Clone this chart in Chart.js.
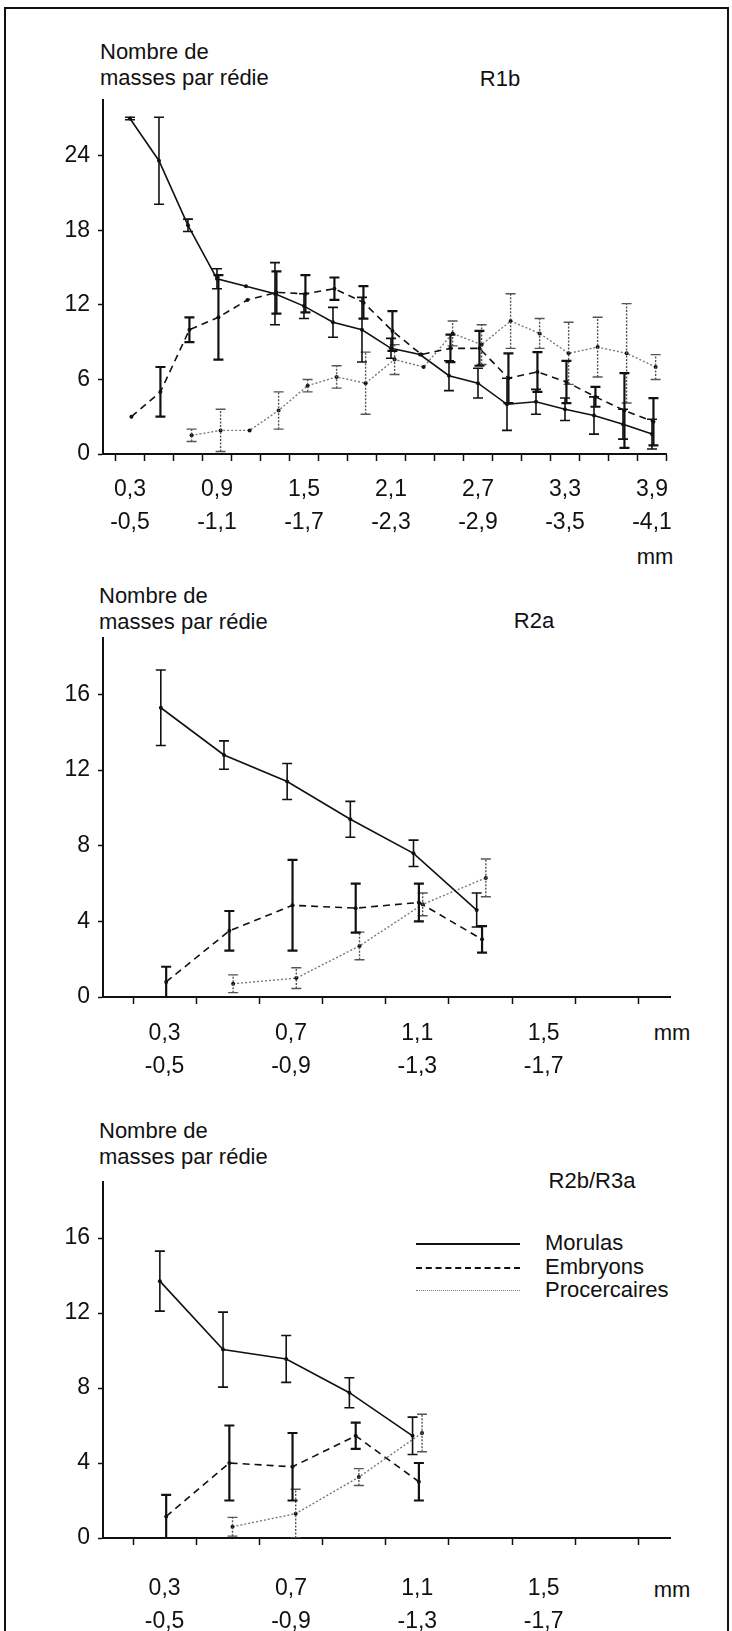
<!DOCTYPE html>
<html lang="fr">
<head>
<meta charset="utf-8">
<title>Nombre de masses par rédie</title>
<script src="https://cdn.jsdelivr.net/npm/chart.js@4.4.1/dist/chart.umd.min.js"></script>
<style>
  html, body { margin: 0; padding: 0; background: #fff; }
  body { width: 732px; height: 1631px; position: relative; overflow: hidden;
         font-family: "Liberation Sans", Arial, sans-serif; color: #111; }
  .frame { position: absolute; left: 4px; top: 7px; width: 725px; height: 1640px;
           border: 2px solid #111; box-sizing: border-box; }
  canvas { position: absolute; left: 0; }
  .txt { position: absolute; font-size: 22px; line-height: 26px; white-space: nowrap; }
  .c { transform: translate(-50%, -50%); }
  .sample { position: absolute; left: 416px; width: 104px; height: 0; }
</style>
</head>
<body>
<div class="frame"></div>

<div class="txt" style="left:100px; top:39px">Nombre de<br>masses par rédie</div>
<div class="txt c" style="left:500px; top:79px">R1b</div>
<div class="txt c" style="left:655px; top:557px">mm</div>
<canvas id="chart1" width="732" height="467" style="top:78px"></canvas>

<div class="txt" style="left:99px; top:583px">Nombre de<br>masses par rédie</div>
<div class="txt c" style="left:534px; top:621px">R2a</div>
<div class="txt c" style="left:672px; top:1033px">mm</div>
<canvas id="chart2" width="732" height="474" style="top:616px"></canvas>

<div class="txt" style="left:99px; top:1118px">Nombre de<br>masses par rédie</div>
<div class="txt c" style="left:592px; top:1181px">R2b/R3a</div>
<div class="txt c" style="left:672px; top:1590px">mm</div>
<div id="legend"></div>
<canvas id="chart3" width="732" height="471" style="top:1160px"></canvas>

<script>
// size classes (class centre, mm)
const classes1 = [0.4, 0.6, 0.8, 1.0, 1.2, 1.4, 1.6, 1.8, 2.0, 2.2, 2.4, 2.6, 2.8, 3.0, 3.2, 3.4, 3.6, 3.8, 4.0];
const classes2 = [0.4, 0.6, 0.8, 1.0, 1.2, 1.4];
const classes3 = [0.4, 0.6, 0.8, 1.0, 1.2];

const seriesNames = ['Morulas', 'Embryons', 'Procercaires'];

// R1b
const morulas1 = [27.0, 23.6, 18.4, 14.1, 13.5, 12.9, 11.9, 10.6, 10.0, 8.5, 8.0, 6.3, 5.7, 4.0, 4.2, 3.6, 3.1, 2.4, 1.6];
const morulasErr1 = [0.1, 3.5, 0.5, 0.8, null, 2.5, 1.0, 1.2, 2.6, 0.8, null, 1.2, 1.2, 2.1, 1.0, 0.9, 1.5, 1.2, 1.2];
const embryons1 = [3.0, 5.0, 10.0, 11.0, 12.4, 13.0, 12.9, 13.3, 12.2, 9.9, 8.0, 8.5, 8.5, 6.1, 6.6, 5.8, 4.6, 3.5, 2.6];
const embryonsErr1 = [null, 2.0, 1.0, 3.4, null, 1.7, 1.5, 0.9, 1.3, 1.6, null, 1.1, 1.4, 2.0, 1.6, 1.7, 0.8, 3.0, 1.9];
const procercaires1 = [null, null, 1.5, 1.9, 1.9, 3.5, 5.5, 6.2, 5.7, 7.6, 7.0, 9.7, 8.8, 10.7, 9.7, 8.1, 8.6, 8.1, 7.0];
const procercairesErr1 = [null, null, 0.5, 1.7, null, 1.5, 0.5, 0.9, 2.5, 1.2, null, 1.0, 1.6, 2.2, 1.2, 2.5, 2.4, 4.0, 1.0];

// R2a
const morulas2 = [15.3, 12.8, 11.4, 9.4, 7.6, 4.6];
const morulasErr2 = [2.0, 0.75, 0.95, 0.95, 0.7, 0.9];
const embryons2 = [0.8, 3.5, 4.85, 4.7, 5.0, 3.05];
const embryonsErr2 = [0.8, 1.05, 2.4, 1.3, 1.0, 0.7];
const procercaires2 = [null, 0.7, 1.0, 2.7, 4.9, 6.3];
const procercairesErr2 = [null, 0.47, 0.55, 0.73, 0.6, 1.0];

// R2b/R3a
const morulas3 = [13.7, 10.05, 9.55, 7.75, 5.45];
const morulasErr3 = [1.6, 2.0, 1.25, 0.8, 1.0];
const embryons3 = [1.15, 4.0, 3.8, 5.45, 3.0];
const embryonsErr3 = [1.15, 2.0, 1.8, 0.7, 1.0];
const procercaires3 = [null, 0.6, 1.3, 3.25, 5.6];
const procercairesErr3 = [null, 0.5, 1.3, 0.45, 1.0];

// axes
const xBounds1 = [0.3, 0.5, 0.7, 0.9, 1.1, 1.3, 1.5, 1.7, 1.9, 2.1, 2.3, 2.5, 2.7, 2.9, 3.1, 3.3, 3.5, 3.7, 3.9, 4.1];
const xLabelAt1 = [0.4, 1.0, 1.6, 2.2, 2.8, 3.4, 4.0];
const xLabels1 = [['0,3', '-0,5'], ['0,9', '-1,1'], ['1,5', '-1,7'], ['2,1', '-2,3'], ['2,7', '-2,9'], ['3,3', '-3,5'], ['3,9', '-4,1']];
const yTicks1 = [0, 6, 12, 18, 24];

const xBounds23 = [0.3, 0.5, 0.7, 0.9, 1.1, 1.3, 1.5, 1.7, 1.9];
const xLabelAt23 = [0.4, 0.8, 1.2, 1.6];
const xLabels23 = [['0,3', '-0,5'], ['0,7', '-0,9'], ['1,1', '-1,3'], ['1,5', '-1,7']];
const yTicks23 = [0, 4, 8, 12, 16];

const INK = '#111';
const FONT = '"Liberation Sans", Arial, sans-serif';
const styles = [
    { color: INK, dash: [], width: 1.6, errWidth: 1.6, errDash: [], errColor: INK },
    { color: INK, dash: [7, 5], width: 1.6, errWidth: 2.2, errDash: [], errColor: INK },
    { color: '#7a7a7a', dash: [2, 2], width: 1.4, errWidth: 1.4, errDash: [2, 1.5], errColor: '#555' }
];

function meanPoints(xs, ys, dx) {
    return xs.map((x, i) => ys[i] == null ? null : { x: x + dx, y: ys[i] }).filter(p => p);
}

function errPoints(xs, ys, es, dx) {
    const pts = [];
    xs.forEach((x, i) => {
        if (ys[i] == null || es[i] == null) return;
        pts.push({ x: x + dx, y: Math.max(0, ys[i] - es[i]) });
        pts.push({ x: x + dx, y: ys[i] + es[i] });
        pts.push({ x: x + dx, y: null });
    });
    return pts;
}

function buildDatasets(xs, means, errs, offsets) {
    const sets = [];
    means.forEach((ys, s) => {
        const st = styles[s];
        sets.push({
            label: seriesNames[s] + ' (erreur)',
            data: errPoints(xs, ys, errs[s], offsets[s]),
            showLine: true, spanGaps: false,
            borderColor: st.errColor, borderWidth: st.errWidth, borderDash: st.errDash,
            pointStyle: 'line', pointRadius: 5,
            pointBorderColor: st.errColor, pointBorderWidth: st.errWidth
        });
    });
    means.forEach((ys, s) => {
        const st = styles[s];
        sets.push({
            label: seriesNames[s],
            data: meanPoints(xs, ys, offsets[s]),
            borderColor: st.color, borderWidth: st.width, borderDash: st.dash,
            tension: 0,
            pointRadius: 2, pointBackgroundColor: INK, pointBorderWidth: 0
        });
    });
    return sets;
}

function makeChart(id, p) {
    const near = (a, b) => Math.abs(a - b) < 1e-6;
    const canvas = document.getElementById(id);
    const chart = new Chart(canvas, {
        type: 'line',
        data: { datasets: buildDatasets(p.xs, p.means, p.errs, p.offsets) },
        options: {
            responsive: false,
            maintainAspectRatio: false,
            animation: false,
            events: [],
            layout: { padding: { left: 0, right: p.padRight, top: 0, bottom: 0 } },
            plugins: { legend: { display: false }, tooltip: { enabled: false } },
            scales: {
                x: {
                    type: 'linear', bounds: 'data', min: p.xMin, max: p.xMax,
                    afterFit: s => { s.height = p.xAxisHeight; },
                    afterBuildTicks: s => {
                        s.ticks = p.bounds.concat(p.labelAt).sort((a, b) => a - b).map(v => ({ value: v }));
                    },
                    ticks: {
                        autoSkip: false, maxRotation: 0, minRotation: 0,
                        padding: p.labelPad, color: INK,
                        font: { family: FONT, size: 23, lineHeight: 1.45 },
                        callback: v => {
                            const j = p.labelAt.findIndex(a => near(a, v));
                            return j < 0 ? '' : p.labels[j];
                        }
                    },
                    grid: {
                        drawOnChartArea: false, tickLength: 7, tickWidth: 1.5,
                        tickColor: ctx => (ctx.tick && p.bounds.some(b => near(b, ctx.tick.value))) ? INK : 'rgba(0,0,0,0)'
                    },
                    border: { color: INK, width: 2 }
                },
                y: {
                    bounds: 'data', min: 0, max: p.yMax,
                    afterFit: s => { s.width = 103; },
                    afterBuildTicks: s => { s.ticks = p.yTicks.map(v => ({ value: v })); },
                    ticks: {
                        padding: 8, color: INK,
                        font: { family: FONT, size: 23 }
                    },
                    grid: { drawOnChartArea: false, tickLength: 5, tickWidth: 1.5, tickColor: INK },
                    border: { color: INK, width: 2 }
                }
            }
        }
    });

    // the y labels push the plot top down; move the canvas so the axes land where they should
    const canvasTop = parseFloat(canvas.style.top);
    const shift = Math.round(canvasTop + chart.chartArea.top - p.areaTop);
    if (shift !== 0) {
        canvas.style.top = (canvasTop - shift) + 'px';
        p.xAxisHeight -= shift;
        chart.update();
    }
    return chart;
}

makeChart('chart1', {
    xs: classes1,
    means: [morulas1, embryons1, procercaires1],
    errs: [morulasErr1, embryonsErr1, procercairesErr1],
    offsets: [0, 0.01, 0.025],
    xMin: 0.214, xMax: 4.1, yMax: 28.5,
    bounds: xBounds1, labelAt: xLabelAt1, labels: xLabels1, yTicks: yTicks1,
    padRight: 65.5, areaTop: 100, xAxisHeight: 91, labelPad: 12
});

makeChart('chart2', {
    xs: classes2,
    means: [morulas2, embryons2, procercaires2],
    errs: [morulasErr2, embryonsErr2, procercairesErr2],
    offsets: [-0.012, 0.005, 0.017],
    xMin: 0.205, xMax: 2.0, yMax: 19,
    bounds: xBounds23, labelAt: xLabelAt23, labels: xLabels23, yTicks: yTicks23,
    padRight: 62, areaTop: 638, xAxisHeight: 93, labelPad: 13
});

makeChart('chart3', {
    xs: classes3,
    means: [morulas3, embryons3, procercaires3],
    errs: [morulasErr3, embryonsErr3, procercairesErr3],
    offsets: [-0.015, 0.005, 0.015],
    xMin: 0.205, xMax: 2.0, yMax: 19,
    bounds: xBounds23, labelAt: xLabelAt23, labels: xLabels23, yTicks: yTicks23,
    padRight: 62, areaTop: 1182, xAxisHeight: 93, labelPad: 27
});

// legend of the last panel
const legend = document.getElementById('legend');
const legendRows = [1243, 1267, 1290];
const legendLines = ['2px solid ' + INK, '2px dashed ' + INK, '1.5px dotted #7a7a7a'];
seriesNames.forEach((name, i) => {
    const line = document.createElement('div');
    line.className = 'sample';
    line.style.top = legendRows[i] + 'px';
    line.style.borderTop = legendLines[i];
    legend.appendChild(line);

    const label = document.createElement('div');
    label.className = 'txt';
    label.style.left = '545px';
    label.style.top = (legendRows[i] - 13) + 'px';
    label.textContent = name;
    legend.appendChild(label);
});
</script>
</body>
</html>
